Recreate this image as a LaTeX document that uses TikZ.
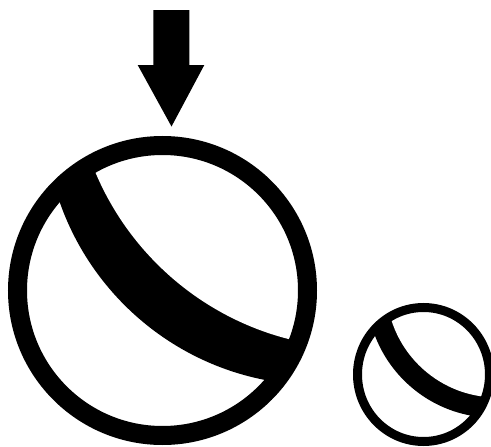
\documentclass[tikz,border=0pt]{standalone}
\begin{document}
\begin{tikzpicture}[x=1pt,y=-1pt]
\tikzset{ring/.style={draw=black,fill=none}}
\useasboundingbox (0,0) rectangle (491,447);
% arrow
\fill[black] (153.3,10) -- (189.3,10) -- (189.3,65) -- (204.3,65) -- (171.5,126.5) -- (137.7,65) -- (153.3,65) -- cycle;
% big ball
\coordinate (bigc) at (162.5,290.5);
\begin{scope}
  \clip (bigc) circle[radius=145pt];
  \fill[black] (317.5,112) circle[radius=273pt];
  \fill[white] (360,61) circle[radius=287pt];
\end{scope}
\draw[ring,line width=19pt] (bigc) circle[radius=145pt];
% small ball
\coordinate (smc) at (423.5,374.5);
\begin{scope}
  \clip (smc) ellipse[x radius=66pt, y radius=67pt];
  \fill[black] (494.1,290.2) circle[radius=127.5pt];
  \fill[white] (497.2,286.5) circle[radius=111pt];
\end{scope}
\draw[ring,line width=9pt] (smc) ellipse[x radius=66pt, y radius=67pt];
\end{tikzpicture}
\end{document}
